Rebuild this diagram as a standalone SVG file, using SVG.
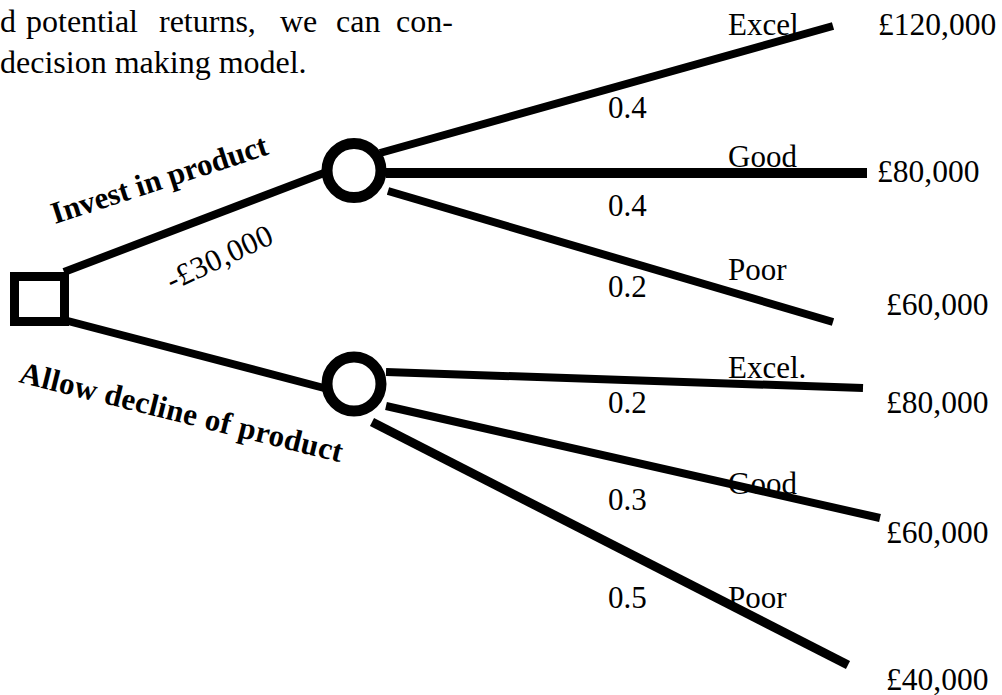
<svg xmlns="http://www.w3.org/2000/svg" width="1002" height="695" viewBox="0 0 1002 695">
<style>
text{font-family:"Liberation Serif","Times New Roman",serif;font-size:30px;fill:#000}
.p{font-size:32px}
.t{font-size:31px}
.v{font-size:31.5px}
.b{font-weight:bold;font-size:31px}
.node{fill:none;stroke:#000}
.ln{stroke:#000;stroke-width:8;fill:none}
</style>
<rect width="1002" height="695" fill="#fff"/>
<g id="paragraph">
<text class="p" y="32"><tspan x="0">d</tspan><tspan x="26">potential</tspan><tspan x="159">returns,</tspan><tspan x="280">we</tspan><tspan x="336">can</tspan><tspan x="396">con-</tspan></text>
<text class="p" x="0" y="73">decision making model.</text>
</g>
<g id="connectors">
<line class="ln" x1="64" y1="272" x2="324" y2="173" stroke-width="7"/>
<line class="ln" x1="64" y1="320" x2="324" y2="388" stroke-width="7"/>
<line class="ln" x1="380" y1="153" x2="833" y2="26"/>
<line class="ln" x1="386" y1="173" x2="867" y2="173" style="stroke-width:10"/>
<line class="ln" x1="388" y1="191" x2="833" y2="322"/>
<line class="ln" x1="386" y1="372" x2="863" y2="388"/>
<line class="ln" x1="386" y1="406" x2="880" y2="518"/>
<line class="ln" x1="372" y1="422" x2="848" y2="665" style="stroke-width:9"/>
</g>
<g id="decision">
<rect class="node" x="14.5" y="276.5" width="50" height="45" stroke-width="9"/>
</g>
<g id="chance-invest">
<circle class="node" cx="354" cy="170.5" r="27" stroke-width="11" fill="#fff"/>
</g>
<g id="chance-decline">
<circle class="node" cx="354" cy="384" r="27" stroke-width="11" fill="#fff"/>
</g>
<g id="labels">
<text class="b" transform="translate(55,224) rotate(-18)" textLength="226">Invest in product</text>
<text class="t" transform="translate(172,291) rotate(-25)" textLength="114">-£30,000</text>
<text class="b" transform="translate(18,382) rotate(14)" textLength="332">Allow decline of product</text>
<text class="t" x="608" y="118">0.4</text>
<text class="t" x="608" y="216">0.4</text>
<text class="t" x="608" y="297">0.2</text>
<text class="t" x="608" y="413">0.2</text>
<text class="t" x="608" y="510">0.3</text>
<text class="t" x="608" y="608">0.5</text>
<text class="t" x="728" y="35">Excel</text>
<text class="t" x="728" y="167">Good</text>
<text class="t" x="728" y="280">Poor</text>
<text class="t" x="728" y="378">Excel.</text>
<text class="t" x="728" y="494">Good</text>
<text class="t" x="728" y="608">Poor</text>
<text class="v" x="878" y="35">£120,000</text>
<text class="v" x="877" y="182">£80,000</text>
<text class="v" x="886" y="315">£60,000</text>
<text class="v" x="886" y="413">£80,000</text>
<text class="v" x="886" y="543">£60,000</text>
<text class="v" x="886" y="690">£40,000</text>
</g>
</svg>
